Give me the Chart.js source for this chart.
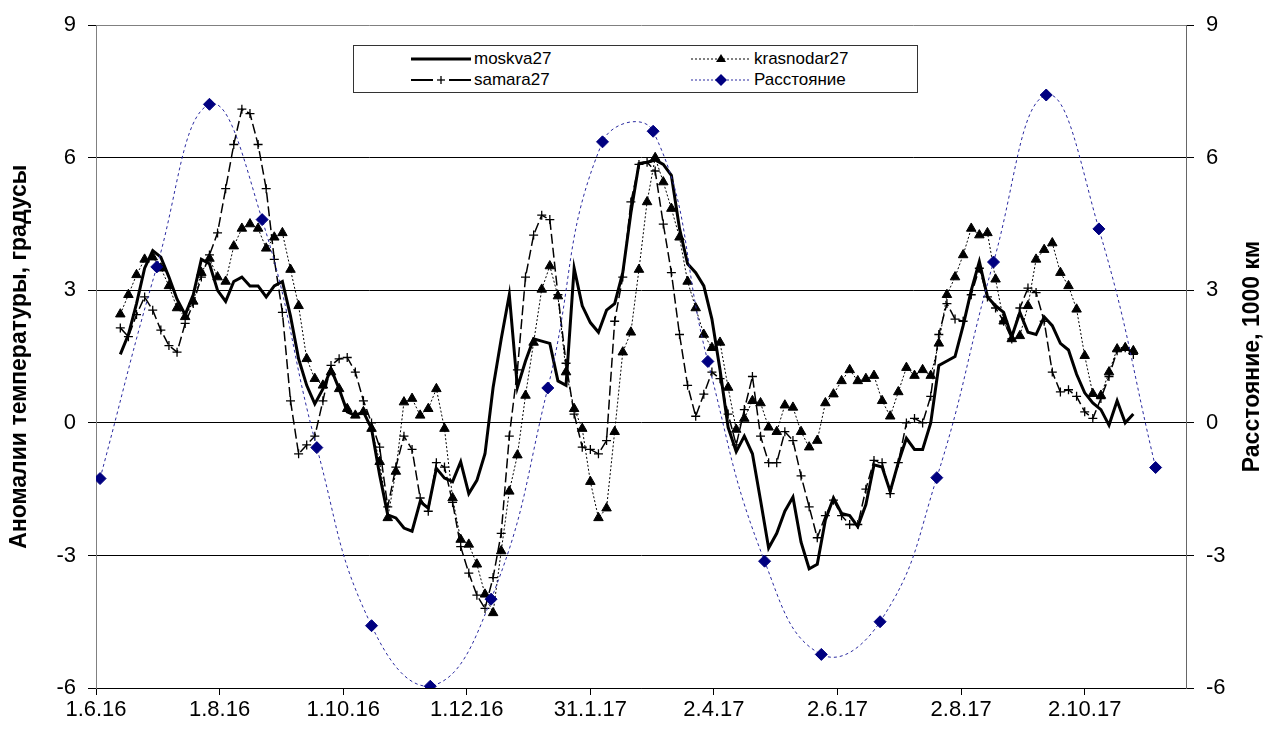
<!DOCTYPE html>
<html>
<head>
<meta charset="utf-8">
<script src="https://cdn.jsdelivr.net/npm/chart.js@4.4.0/dist/chart.umd.min.js"></script>
<style>
  html, body { margin:0; padding:0; background:#fff; }
  #wrap { position:relative; width:1265px; height:735px; }
  #legend { position:absolute; left:353px; top:45px; width:563px; height:46px;
            border:1px solid #333; background:#fff;
            font:17px "Liberation Sans", Arial, sans-serif; color:#000; }
  .item { position:absolute; height:20px; display:flex; align-items:center; white-space:nowrap; }
  .item svg { margin-right:3px; }
</style>
</head>
<body>
<div id="wrap">
  <canvas id="c" width="1265" height="735"></canvas>
  <div id="legend"></div>
</div>
<script>
/* ── data ───────────────────────────────────────────────
   days are counted from 1.6.16; temperature series are
   sampled every 4 days from day 12 on                   */
const startDay = 12;
const stepDays = 4;

const moskva = [
  1.55, 2.0, 2.7, 3.5, 3.9, 3.75, 3.3, 2.8, 2.45, 2.9, 3.7, 3.6, 3.0, 2.75, 3.2, 3.3, 3.1, 3.1, 2.85, 3.1,
  3.2, 2.42, 1.45, 0.85, 0.43, 0.77, 1.22, 0.77, 0.25, 0.17, 0.25, -0.13, -1.18, -2.08, -2.15, -2.38, -2.45, -1.78, -1.93, -1.03,
  -1.25, -1.33, -0.88, -1.6, -1.3, -0.7, 0.8, 1.9, 2.9, 0.8, 1.4, 1.9, 1.85, 1.8, 0.95, 0.85, 3.5, 2.65, 2.27, 2.05,
  2.55, 2.7, 3.4, 4.75, 5.87, 5.9, 5.95, 5.85, 5.6, 4.4, 3.6, 3.4, 3.1, 2.35, 1.2, -0.1, -0.65, -0.3, -0.7, -1.75,
  -2.83, -2.5, -2.0, -1.68, -2.7, -3.3, -3.2, -2.2, -1.7, -2.05, -2.1, -2.35, -1.85, -0.95, -1.0, -1.55, -0.9, -0.35, -0.6, -0.6,
  0.0, 1.3, 1.4, 1.5, 2.2, 3.0, 3.65, 2.85, 2.65, 2.5, 1.95, 2.5, 2.05, 2.0, 2.4, 2.2, 1.8, 1.65, 1.1, 0.68,
  0.45, 0.3, -0.05, 0.5, 0.0, 0.2
];

const krasnodar = [
  2.46, 2.9, 3.35, 3.7, 3.75, 3.5, 3.1, 2.6, 2.4, 2.75, 3.4, 3.72, 3.3, 3.2, 4.0, 4.4, 4.5, 4.4, 3.95, 4.2,
  4.3, 3.47, 2.65, 1.45, 1.0, 0.85, 1.15, 0.77, 0.32, 0.17, 0.25, -0.13, -0.88, -2.15, -1.1, 0.47, 0.55, 0.17, 0.32, 0.77,
  -0.13, -1.7, -2.64, -2.75, -3.2, -3.88, -4.3, -2.9, -1.55, -0.73, 0.62, 1.82, 3.02, 3.55, 2.87, 1.15, 0.32, -0.13, -1.33, -2.15,
  -1.93, -0.2, 1.6, 2.05, 3.47, 5.0, 6.0, 5.45, 4.85, 4.2, 3.2, 2.6, 2.0, 1.7, 1.82, 0.8, -0.15, 0.1, 0.5, 0.45,
  -0.1, -0.2, 0.4, 0.35, -0.2, -0.55, -0.4, 0.45, 0.65, 0.95, 1.2, 0.95, 1.0, 1.07, 0.5, 0.15, 0.7, 1.25, 1.07, 1.2,
  1.07, 1.8, 2.9, 3.3, 3.8, 4.4, 4.25, 4.3, 3.25, 2.3, 1.9, 1.97, 2.65, 3.7, 3.92, 4.07, 3.4, 3.1, 2.57, 1.52,
  0.66, 0.62, 1.15, 1.67, 1.7, 1.63
];

const samara = [
  2.15, 1.95, 2.45, 2.85, 2.55, 2.1, 1.75, 1.6, 2.25, 2.7, 3.3, 3.8, 4.3, 5.3, 6.3, 7.1, 7.0, 6.3, 5.3, 3.7,
  2.5, 0.5, -0.7, -0.5, -0.3, 0.5, 1.3, 1.45, 1.48, 1.15, 0.5, 0.0, -0.55, -1.9, -1.0, -0.3, -0.6, -1.7, -2.0, -0.9,
  -1.0, -1.8, -2.8, -3.4, -3.9, -4.2, -3.5, -2.5, -0.3, 1.2, 3.3, 4.25, 4.7, 4.6, 2.9, 1.35, 0.2, -0.55, -0.6, -0.7,
  -0.4, 2.3, 3.3, 5.0, 5.85, 5.9, 5.7, 4.5, 3.4, 2.0, 0.85, 0.15, 0.65, 1.15, 1.0, 0.2, -0.5, 0.3, 1.05, -0.3,
  -0.9, -0.9, -0.2, -0.4, -1.2, -1.9, -2.6, -2.1, -1.75, -2.1, -2.3, -2.3, -1.5, -0.85, -0.9, -1.6, -0.9, 0.0, 0.1, 0.0,
  0.6, 2.0, 2.7, 2.35, 2.3, 2.9, 3.5, 2.85, 2.6, 2.3, 1.9, 2.6, 3.05, 2.95, 2.3, 1.15, 0.7, 0.75, 0.6, 0.25,
  0.1, 0.55, 1.05, 1.63, 1.7, 1.55
];

const distDays   = [2, 30, 56, 82, 109, 136, 165, 195, 223, 250, 275, 302, 330, 358, 387, 415, 443, 469, 495, 523];
const distValues = [-1.26, 3.53, 7.21, 4.6, -0.56, -4.59, -5.96, -3.99, 0.79, 6.36, 6.6, 1.39, -3.13, -5.24, -4.5, -1.24, 3.64, 7.42, 4.39, -1.01];

const xTickDays   = [0, 61, 122, 183, 244, 305, 366, 427, 488];
const xTickLabels = ['1.6.16', '1.8.16', '1.10.16', '1.12.16', '31.1.17', '2.4.17', '2.6.17', '2.8.17', '2.10.17'];
const xMaxDay     = 538;
const yTicks      = [-6, -3, 0, 3, 6, 9];

const leftAxisTitle  = 'Аномалии температуры, градусы';
const rightAxisTitle = 'Расстояние, 1000 км';

/* ── helpers ───────────────────────────────────────── */
const FONT = '"Liberation Sans", Arial, sans-serif';
const NAVY = '#000080';

const asPoints = vals => vals.map((v, i) => ({ x: startDay + i * stepDays, y: v }));

const rightTitle = {
  id: 'rightTitle',
  afterDraw(chart) {
    const { ctx, chartArea: a } = chart;
    ctx.save();
    ctx.translate(1253, (a.top + a.bottom) / 2);
    ctx.rotate(-Math.PI / 2);
    ctx.font = 'bold 23px ' + FONT;
    ctx.fillStyle = '#000';
    ctx.textAlign = 'center';
    ctx.textBaseline = 'middle';
    ctx.fillText(rightAxisTitle, 0, 0);
    ctx.restore();
  }
};

Chart.defaults.font.family = FONT;
Chart.defaults.color = '#000';

const yGridColor = c => (c.tick && c.tick.value === 9 ? '#808080' : '#000');

new Chart(document.getElementById('c'), {
  type: 'line',
  data: {
    datasets: [
      { label: 'moskva27', data: asPoints(moskva), yAxisID: 'y', order: 1,
        borderColor: '#000', borderWidth: 3, pointRadius: 0, tension: 0 },
      { label: 'krasnodar27', data: asPoints(krasnodar), yAxisID: 'y', order: 3,
        borderColor: '#000', borderWidth: 1, borderDash: [2, 2], tension: 0,
        pointStyle: 'triangle', pointRadius: 5.5, pointBackgroundColor: '#000', pointBorderColor: '#000', pointBorderWidth: 1 },
      { label: 'samara27', data: asPoints(samara), yAxisID: 'y', order: 2,
        borderColor: '#000', borderWidth: 1.5, borderDash: [10, 4], tension: 0,
        pointStyle: 'cross', pointRadius: 4.5, pointBorderColor: '#000', pointBorderWidth: 1.3 },
      { label: 'Расстояние', data: distDays.map((d, i) => ({ x: d, y: distValues[i] })), yAxisID: 'y2', order: 0,
        borderColor: '#2a2aa0', borderWidth: 1, borderDash: [3, 3], tension: 0.45,
        pointStyle: 'rectRot', pointRadius: 6, pointBackgroundColor: NAVY, pointBorderColor: NAVY }
    ]
  },
  options: {
    responsive: false,
    animation: false,
    events: [],
    layout: { padding: { top: 21 } },
    plugins: { legend: { display: false }, tooltip: { enabled: false } },
    scales: {
      x: {
        type: 'linear', min: 0, max: xMaxDay,
        afterBuildTicks: s => { s.ticks = xTickDays.map(v => ({ value: v })); },
        afterFit: s => { s.height = 47; },
        ticks: { autoSkip: false, maxRotation: 0, padding: 2, font: { size: 22 },
          callback: v => xTickLabels[xTickDays.indexOf(v)] },
        grid: { drawOnChartArea: false, tickLength: 7, color: '#000' },
        border: { color: '#000' }
      },
      y: {
        position: 'left', min: -6, max: 9,
        afterBuildTicks: s => { s.ticks = yTicks.map(v => ({ value: v })); },
        afterFit: s => { s.width = 96; },
        ticks: { padding: 12, font: { size: 22 } },
        grid: { color: yGridColor, tickColor: '#000', tickLength: 8 },
        border: { color: '#808080' },
        title: { display: true, text: leftAxisTitle, padding: { top: 8, bottom: 0 },
          font: { size: 23, weight: 'bold', lineHeight: 1 } }
      },
      y2: {
        position: 'right', min: -6, max: 9,
        afterBuildTicks: s => { s.ticks = yTicks.map(v => ({ value: v })); },
        afterFit: s => { s.width = 79; },
        ticks: { padding: 12, font: { size: 22 } },
        grid: { drawOnChartArea: false, tickColor: '#000', tickLength: 8 },
        border: { color: '#666' }
      }
    }
  },
  plugins: [rightTitle]
});

/* ── legend box (two columns, like the original) ────── */
const legendItems = [
  { text: 'moskva27',    left: 57,  top: 3,
    svg: '<line x1="0" y1="10" x2="60" y2="10" stroke="#000" stroke-width="3"/>' },
  { text: 'krasnodar27', left: 337, top: 3,
    svg: '<line x1="0" y1="10" x2="60" y2="10" stroke="#000" stroke-width="1" stroke-dasharray="2,2"/>' +
         '<polygon points="30,5 35,13 25,13" fill="#000"/>' },
  { text: 'samara27',    left: 57,  top: 24,
    svg: '<line x1="0" y1="10" x2="22" y2="10" stroke="#000" stroke-width="2"/>' +
         '<line x1="38" y1="10" x2="60" y2="10" stroke="#000" stroke-width="2"/>' +
         '<line x1="26" y1="10" x2="34" y2="10" stroke="#000" stroke-width="1.3"/>' +
         '<line x1="30" y1="6" x2="30" y2="14" stroke="#000" stroke-width="1.3"/>' },
  { text: 'Расстояние',  left: 337, top: 24,
    svg: '<line x1="0" y1="10" x2="60" y2="10" stroke="#2a2aa0" stroke-width="1" stroke-dasharray="2,2"/>' +
         '<polygon points="30,4 36,10 30,16 24,10" fill="' + NAVY + '"/>' }
];

const legend = document.getElementById('legend');
legendItems.forEach(it => {
  const el = document.createElement('div');
  el.className = 'item';
  el.style.left = it.left + 'px';
  el.style.top = it.top + 'px';
  el.innerHTML = '<svg width="60" height="20" viewBox="0 0 60 20">' + it.svg + '</svg>';
  const span = document.createElement('span');
  span.textContent = it.text;
  el.appendChild(span);
  legend.appendChild(el);
});
</script>
</body>
</html>
